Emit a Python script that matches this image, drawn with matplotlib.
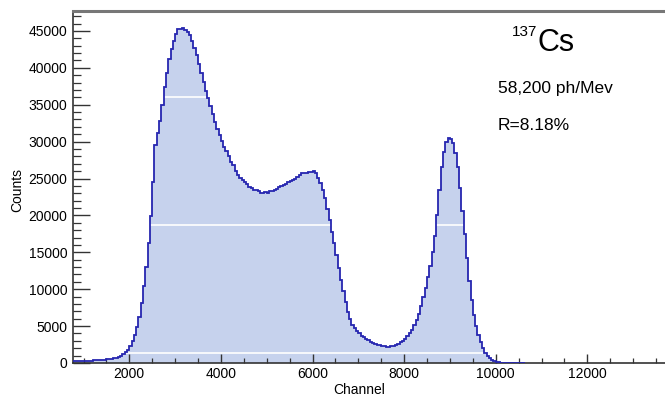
import numpy as np
import matplotlib
matplotlib.use("Agg")
import matplotlib.pyplot as plt
from matplotlib.ticker import MultipleLocator

plt.rcParams['font.family'] = ['Liberation Sans', 'DejaVu Sans']

# ---- data: histogram, 50-channel bins starting at 750 ----
bin_start = 750
bin_width = 50
counts = [
    280, 290, 270, 300, 290, 310, 300, 320, 330, 340,        # 750-1200
    360, 370, 400, 420, 450, 480, 530, 580, 640, 720,        # 1250-1700
    850, 1000, 1180,                                          # 1800-1900
    1450, 1800, 2300, 2950, 3800, 4900, 6200, 8100, 10500, 13000,   # 2000-2450
    16200, 19900, 24500, 29500, 31200, 32800, 35000, 37400, 39300, 41200,  # 2500-2950
    42600, 43600, 44600, 45300, 45200, 45400, 45100, 44900, 44400, 43700,  # 3000-3450
    42700, 41800, 40500, 39300, 38100, 36900, 35900, 34800, 33700, 32600,  # 3500-3950
    31700, 30900, 30100, 29300, 28700, 28000, 27300, 26800, 26000, 25500,  # 4000-4450
    25100, 24800, 24500, 24200, 23900, 23700, 23500, 23400, 23300, 23100,  # 4500-4950
    23000, 23200, 23100, 23300, 23300, 23500, 23600, 23800, 24000, 24100,  # 5000-5450
    24300, 24500, 24600, 24800, 25000, 25200, 25500, 25700, 25800, 25700,  # 5500-5950
    25900, 25900, 26000, 25700, 25100, 24400, 23400, 22300, 20900, 19400,  # 6000-6450
    17800, 16200, 14600, 12900, 11300, 9700, 8200, 6900, 5900, 5200,       # 6500-6950
    4700, 4300, 4000, 3700, 3500, 3300, 3100, 2900, 2750, 2600,            # 7000-7450
    2500, 2400, 2300, 2250, 2200, 2200, 2250, 2350, 2450, 2600,            # 7500-7950
    2800, 3000, 3300, 3600, 4000, 4500, 5100, 5800, 6700, 7700,            # 8000-8450
    8900, 10200, 11600, 13100, 15000, 17200, 20000, 23500, 26500, 28600,   # 8500-8950
    30000, 30500, 30400, 29800, 28500, 26500, 23700, 20600, 17500, 14200,  # 9000-9450
    11100, 8500, 6500, 5000, 3800, 2900, 2100, 1400, 950, 620,             # 9500-9950
    380, 220, 120, 70, 40, 25, 15, 10, 5, 3,                               # 10000-10450
    2, 1, 1, 1, 0,                                                         # 10500-10700
]
x_ticks = [2000, 4000, 6000, 8000, 10000, 12000]
y_ticks = [0, 5000, 10000, 15000, 20000, 25000, 30000, 35000, 40000, 45000]
artifact_levels = [36000, 18700, 1300]

edges = bin_start + bin_width * np.arange(len(counts) + 1)
vals = np.array(counts, dtype=float)

W, H = 665, 399
fig = plt.figure(figsize=(W / 100, H / 100), dpi=100)
left, right = 73 / W, 1.01
bottom, top = (H - 363) / H, (H - 11) / H
ax = fig.add_axes([left, bottom, right - left, top - bottom])

# xlim from pixel scale: 45.8 px per 1000 channels
px_per = 45.8 / 1000.0
xmin = 2000 - (129.3 - 73) / px_per
xmax = 2000 + (W * right - 129.3) / px_per
ax.set_xlim(xmin, xmax)
ax.set_ylim(0, 47700)

fill = ax.stairs(vals, edges, fill=True, color='#c6d2ed', baseline=0, zorder=1)
for lv in artifact_levels:
    ln = ax.axhline(lv, color='white', lw=1.2, zorder=2)
    ln.set_clip_path(fill.get_path(), fill.get_transform())
ax.stairs(vals, edges, fill=False, color='#2626b0', lw=1.3, baseline=0, zorder=3)

ax.set_xticks(x_ticks)
ax.set_yticks(y_ticks)
ax.xaxis.set_minor_locator(MultipleLocator(500))
ax.yaxis.set_minor_locator(MultipleLocator(1000))
ax.tick_params(axis='y', which='major', direction='in', length=12, width=1.0,
               color='#333333', labelsize=10, pad=4)
ax.tick_params(axis='y', which='minor', direction='in', length=6, width=0.9,
               color='#333333')
ax.tick_params(axis='x', which='major', direction='in', length=6.5, width=1.0,
               color='#333333', labelsize=10, pad=3)
ax.tick_params(axis='x', which='minor', direction='in', length=3.5, width=0.9,
               color='#333333')
ax.tick_params(top=False, right=False, which='both')

for s in ['left', 'bottom']:
    ax.spines[s].set_color('#333333')
    ax.spines[s].set_linewidth(1.2)
ax.spines['top'].set_color('#777777')
ax.spines['top'].set_linewidth(2.2)
ax.spines['right'].set_visible(False)

fig.text(359 / W, 1 - 390 / H, 'Channel', ha='center', va='center', fontsize=10)
fig.text(17 / W, 1 - 190 / H, 'Counts', ha='center', va='center', rotation=90, fontsize=10)

fig.text(525 / W, 1 - 32 / H, '137', ha='center', va='center', fontsize=11)
fig.text(556 / W, 1 - 43 / H, 'Cs', ha='center', va='center', fontsize=22)
fig.text(498 / W, 1 - 88 / H, '58,200 ph/Mev', ha='left', va='center', fontsize=12.5)
fig.text(498 / W, 1 - 126 / H, 'R=8.18%', ha='left', va='center', fontsize=12.5)

fig.savefig('out.png', dpi=100)
